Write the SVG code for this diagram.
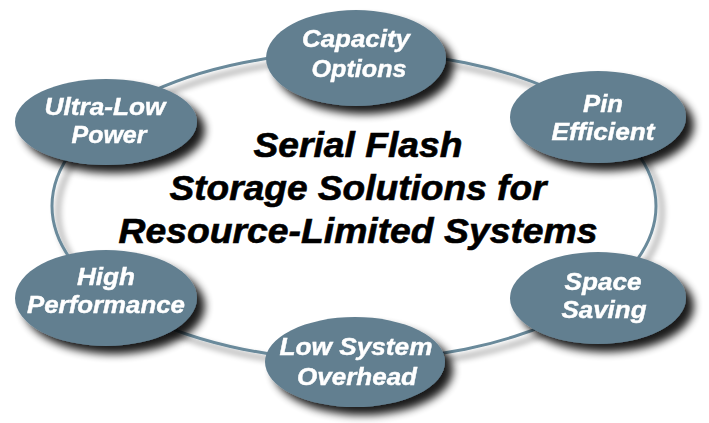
<svg xmlns="http://www.w3.org/2000/svg" width="709" height="423" viewBox="0 0 709 423">
<defs>
<filter id="nshadow" x="-20%" y="-30%" width="150%" height="170%">
<feGaussianBlur in="SourceAlpha" stdDeviation="4" result="b"/>
<feOffset in="b" dx="8" dy="8" result="o"/>
<feComponentTransfer in="o" result="s"><feFuncA type="linear" slope="0.9"/></feComponentTransfer>
<feMerge><feMergeNode in="s"/><feMergeNode in="SourceGraphic"/></feMerge>
</filter>
<filter id="rshadow" x="-10%" y="-10%" width="120%" height="130%">
<feGaussianBlur in="SourceAlpha" stdDeviation="3" result="b"/>
<feOffset in="b" dx="6" dy="6" result="o"/>
<feComponentTransfer in="o" result="s"><feFuncA type="linear" slope="0.5"/></feComponentTransfer>
<feMerge><feMergeNode in="s"/><feMergeNode in="SourceGraphic"/></feMerge>
</filter>
</defs>
<style>
.node ellipse { fill: #627f90; }
.node text { fill: #ffffff; stroke: #ffffff; stroke-width: 0.4; font-family: "Liberation Sans", Arial, sans-serif; font-weight: bold; font-style: italic; font-size: 23px; text-anchor: middle; }
.title { fill: #000000; stroke: #000000; stroke-width: 0.6; font-family: "Liberation Sans", Arial, sans-serif; font-weight: bold; font-style: italic; font-size: 35px; text-anchor: middle; }
.ring { fill: none; stroke: #6a8a9b; stroke-width: 3; }
</style>
<rect width="709" height="423" fill="#ffffff"/>
<g id="connectors" filter="url(#rshadow)">
<ellipse class="ring" cx="354" cy="206" rx="302" ry="154"/>
</g>
<g id="title">
<text class="title" x="358" y="157" textLength="209" lengthAdjust="spacingAndGlyphs">Serial Flash</text>
<text class="title" x="358" y="200" textLength="377" lengthAdjust="spacingAndGlyphs">Storage Solutions for</text>
<text class="title" x="358" y="243" textLength="479" lengthAdjust="spacingAndGlyphs">Resource-Limited Systems</text>
</g>
<g id="capacity" class="node" filter="url(#nshadow)">
<ellipse cx="356" cy="58" rx="90" ry="48"/>
<text x="356" y="47" textLength="108" lengthAdjust="spacingAndGlyphs">Capacity</text>
<text x="359" y="77" textLength="95" lengthAdjust="spacingAndGlyphs">Options</text>
</g>
<g id="pin" class="node" filter="url(#nshadow)">
<ellipse cx="598" cy="117" rx="88" ry="46"/>
<text x="603" y="112" textLength="40" lengthAdjust="spacingAndGlyphs">Pin</text>
<text x="603" y="140" textLength="103" lengthAdjust="spacingAndGlyphs">Efficient</text>
</g>
<g id="ultralow" class="node" filter="url(#nshadow)">
<ellipse cx="106" cy="122" rx="91" ry="43"/>
<text x="105" y="115" textLength="121" lengthAdjust="spacingAndGlyphs">Ultra-Low</text>
<text x="109" y="143" textLength="75" lengthAdjust="spacingAndGlyphs">Power</text>
</g>
<g id="high" class="node" filter="url(#nshadow)">
<ellipse cx="106" cy="298" rx="91" ry="48"/>
<text x="106" y="285" textLength="58" lengthAdjust="spacingAndGlyphs">High</text>
<text x="106" y="313" textLength="158" lengthAdjust="spacingAndGlyphs">Performance</text>
</g>
<g id="lowsys" class="node" filter="url(#nshadow)">
<ellipse cx="355" cy="362" rx="90" ry="45"/>
<text x="356" y="355" textLength="153" lengthAdjust="spacingAndGlyphs">Low System</text>
<text x="357" y="385" textLength="120" lengthAdjust="spacingAndGlyphs">Overhead</text>
</g>
<g id="space" class="node" filter="url(#nshadow)">
<ellipse cx="598" cy="298" rx="88" ry="46"/>
<text x="603" y="290" textLength="77" lengthAdjust="spacingAndGlyphs">Space</text>
<text x="604" y="318" textLength="85" lengthAdjust="spacingAndGlyphs">Saving</text>
</g>
</svg>
